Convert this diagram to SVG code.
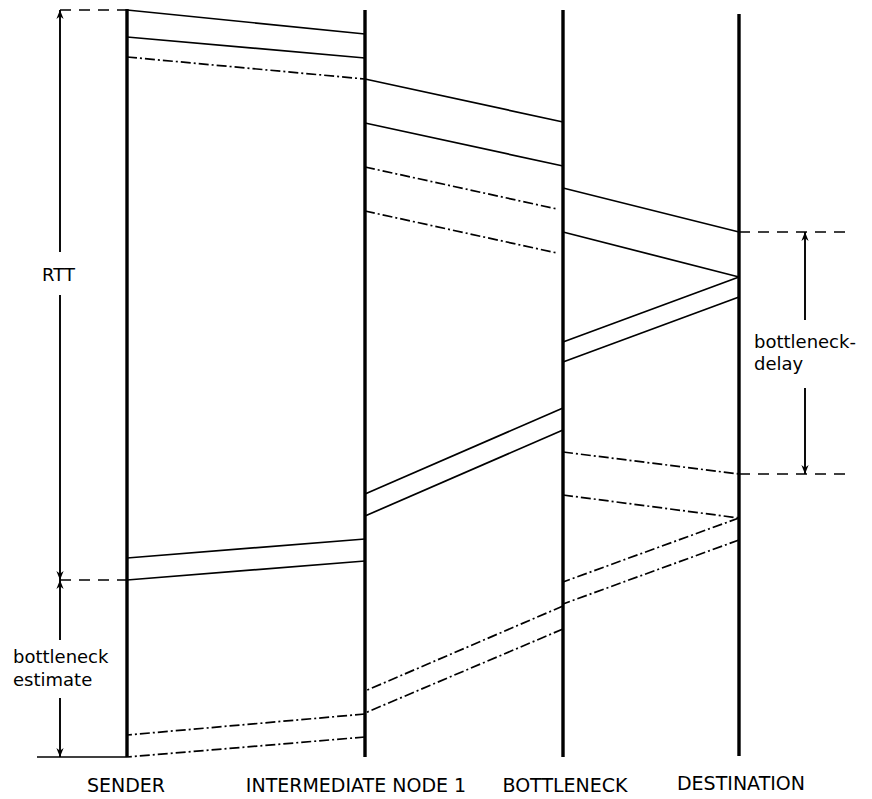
<svg xmlns="http://www.w3.org/2000/svg" width="872" height="799" viewBox="0 0 872 799">
<defs>
<style>
.life{stroke:#000;stroke-width:3.4;fill:none}
.msg{stroke:#000;stroke-width:1.7;fill:none}
.dd{stroke:#000;stroke-width:1.7;fill:none;stroke-dasharray:10 3 2 3}
.dash{stroke:#000;stroke-width:1.6;fill:none;stroke-dasharray:11 8}
.arr{stroke:#000;stroke-width:1.9;fill:none}
text{font-family:"DejaVu Sans","Liberation Sans",sans-serif;font-size:18px;fill:#000}
.lbl{text-anchor:middle;font-size:19px}
</style>
<marker id="ah" viewBox="0 0 10 10" refX="10" refY="5" markerWidth="9" markerHeight="9" markerUnits="userSpaceOnUse" orient="auto-start-reverse">
<path d="M0,1 L10,5 L0,9 L3,5 z" fill="#000"/>
</marker>
</defs>
<rect width="872" height="799" fill="#fff"/>

<g id="sender">
<line class="life" x1="127" y1="9" x2="127" y2="757"/>
<text class="lbl" x="126" y="792">SENDER</text>
</g>
<g id="intermediate">
<line class="life" x1="365" y1="10" x2="365" y2="757"/>
<text class="lbl" x="356" y="792">INTERMEDIATE NODE 1</text>
</g>
<g id="bottleneck">
<line class="life" x1="563" y1="10" x2="563" y2="757"/>
<text class="lbl" x="565" y="792">BOTTLENECK</text>
</g>
<g id="destination">
<line class="life" x1="739" y1="14" x2="739" y2="756"/>
<text class="lbl" x="741" y="790">DESTINATION</text>
</g>

<g id="connectors">
<line class="msg" x1="127" y1="10" x2="365" y2="34"/>
<line class="msg" x1="127" y1="37" x2="365" y2="58"/>
<line class="dd" x1="127" y1="57" x2="365" y2="79"/>
<line class="msg" x1="365" y1="79" x2="563" y2="122"/>
<line class="msg" x1="365" y1="123" x2="563" y2="166"/>
<line class="dd" x1="365" y1="167" x2="557" y2="209"/>
<line class="dd" x1="365" y1="211" x2="557" y2="253"/>
<line class="msg" x1="563" y1="188" x2="739" y2="232"/>
<line class="msg" x1="563" y1="232" x2="739" y2="277"/>
<line class="msg" x1="739" y1="277" x2="563" y2="342"/>
<line class="msg" x1="739" y1="297" x2="563" y2="362"/>
<line class="msg" x1="563" y1="408" x2="365" y2="494"/>
<line class="msg" x1="563" y1="430" x2="365" y2="516"/>
<line class="msg" x1="365" y1="539" x2="127" y2="558"/>
<line class="msg" x1="365" y1="561" x2="127" y2="580"/>
<line class="dd" x1="563" y1="452" x2="739" y2="474"/>
<line class="dd" x1="563" y1="495" x2="739" y2="518"/>
<line class="dd" x1="739" y1="518" x2="563" y2="582"/>
<line class="dd" x1="739" y1="540" x2="563" y2="604"/>
<line class="dd" x1="563" y1="606" x2="365" y2="691"/>
<line class="dd" x1="563" y1="629" x2="365" y2="713"/>
<line class="dd" x1="365" y1="714" x2="127" y2="735"/>
<line class="dd" x1="365" y1="737" x2="127" y2="757"/>
</g>

<g id="annotations">
<line class="dash" x1="60" y1="10" x2="127" y2="10"/>
<line class="dash" x1="60" y1="580" x2="127" y2="580"/>
<line class="dash" x1="739" y1="232" x2="845" y2="232"/>
<line class="dash" x1="739" y1="474" x2="845" y2="474"/>
<line class="msg" x1="37" y1="757" x2="127" y2="757"/>
<line class="arr" x1="60" y1="252" x2="60" y2="10" marker-end="url(#ah)"/>
<line class="arr" x1="60" y1="295" x2="60" y2="580" marker-end="url(#ah)"/>
<line class="arr" x1="60" y1="640" x2="60" y2="580" marker-end="url(#ah)"/>
<line class="arr" x1="60" y1="698" x2="60" y2="757" marker-end="url(#ah)"/>
<line class="arr" x1="805" y1="320" x2="805" y2="232" marker-end="url(#ah)"/>
<line class="arr" x1="805" y1="388" x2="805" y2="474" marker-end="url(#ah)"/>
<text x="42" y="281">RTT</text>
<text x="13" y="663">bottleneck</text>
<text x="13" y="686">estimate</text>
<text x="754" y="348">bottleneck-</text>
<text x="754" y="370">delay</text>
</g>
</svg>
